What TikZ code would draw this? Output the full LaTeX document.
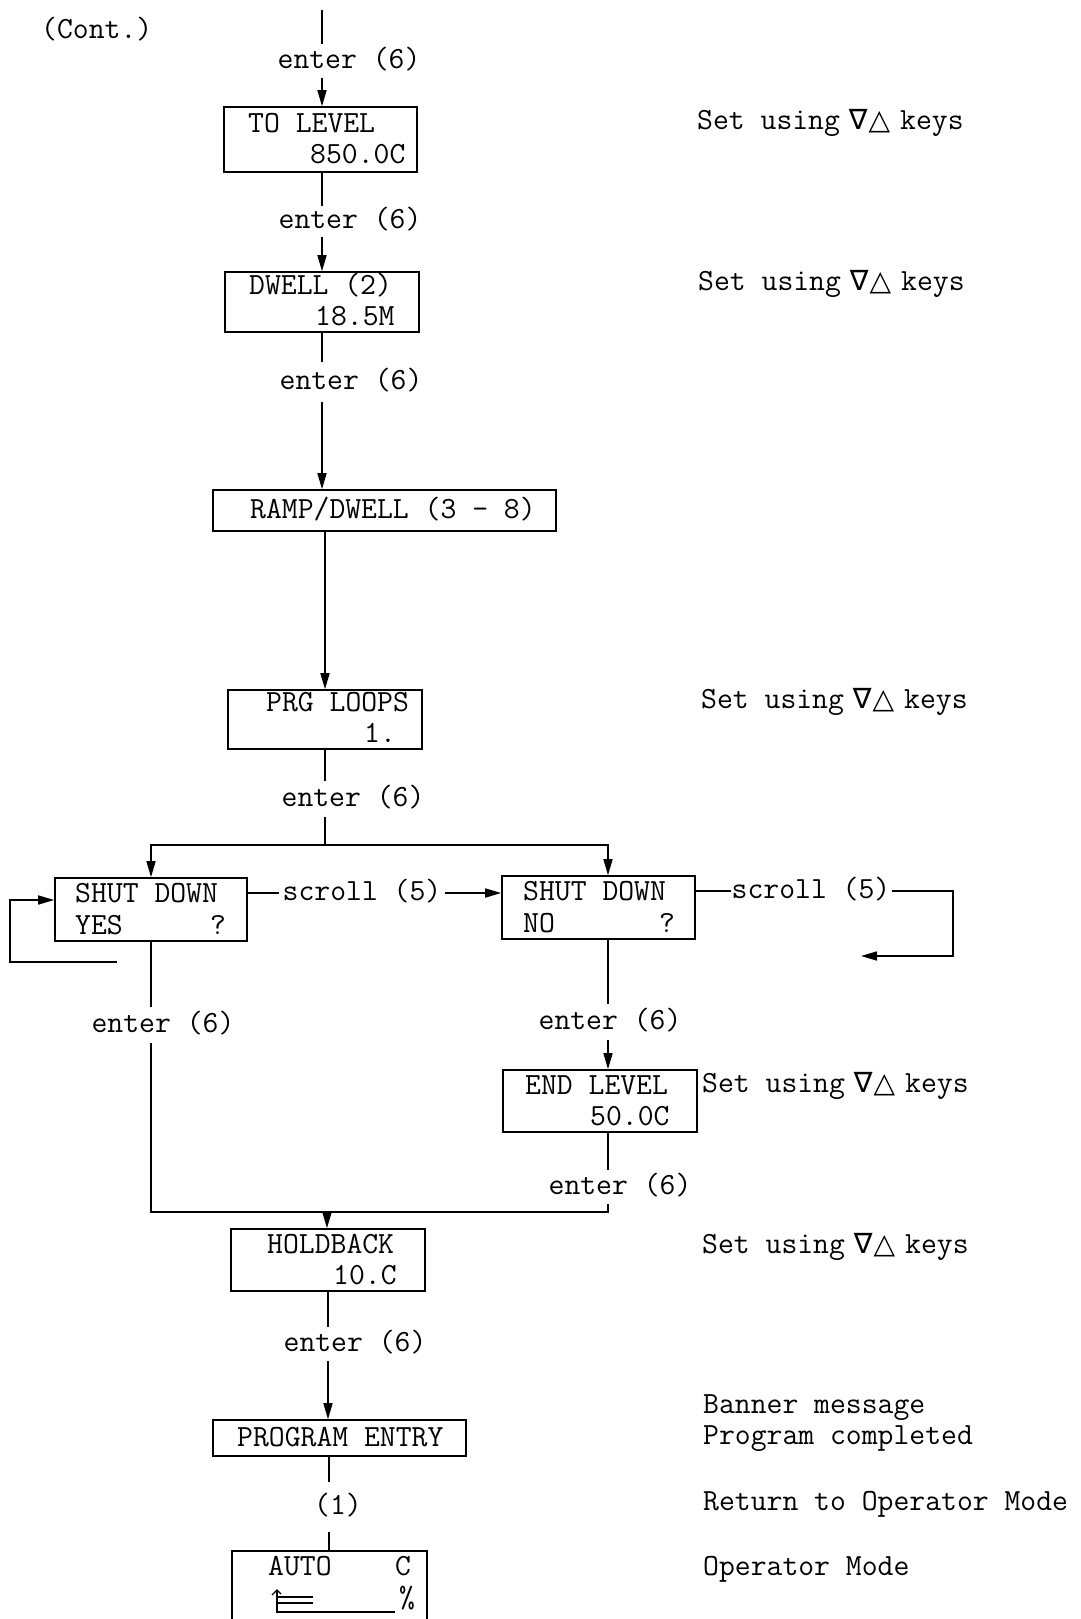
\documentclass[tikz,border=0pt]{standalone}
\usepackage{fontspec}
\newfontfamily\symfont{DejaVu Sans}
\usetikzlibrary{arrows.meta}
\newcommand\fs{\ttfamily\fontsize{30.8}{31}\selectfont}
\newcommand\keystext{Set using\hspace{9pt}{\symfont\fontsize{28}{30}\selectfont ∇\hspace{1pt}△}\hspace{10pt}keys}
\tikzset{
  ln/.style={line width=1.6pt},
  arr/.style={line width=1.6pt,-{Triangle[length=16pt,width=9pt]}},
  box/.style={draw,line width=1.6pt,inner sep=0pt},
  txt/.style={inner sep=0pt,anchor=west,font=\fs,text height=17pt,text depth=0pt},
  lbl/.style={inner xsep=4pt,inner ysep=0pt,font=\fs,text height=20pt,text depth=6pt}
}
\begin{document}
\begin{tikzpicture}[x=1pt,y=-1pt]
\useasboundingbox (0,0) rectangle (1080,1619);
\fill[white] (0,0) rectangle (1080,1619);

% ---- texts on the left / top
\node[txt] (cont) at (41,30) {(Cont.)};

% ---- boxes
\node[box,minimum width=193pt,minimum height=65pt] (tolevel) at (320.5,139.5) {};
\node[txt] (tolevel1) at (248,124) {TO LEVEL};
\node[txt] (tolevel2) at (310,155) {850.0C};

\node[box,minimum width=194pt,minimum height=60pt] (dwell) at (322,302) {};
\node[txt] (dwell1) at (249,286) {DWELL (2)};
\node[txt] (dwell2) at (315,317) {18.5M};

\node[box,minimum width=343pt,minimum height=41pt] (ramp) at (384.5,510.5) {};
\node[txt] (ramp1) at (250,510) {RAMP/DWELL (3 - 8)};

\node[box,minimum width=194pt,minimum height=59pt] (prg) at (325,719.5) {};
\node[txt] (prg1) at (266,703) {PRG LOOPS};
\node[txt] (prg2) at (364,734) {1.};

\node[box,minimum width=192pt,minimum height=63pt] (yes) at (151,909.5) {};
\node[txt] (yes1) at (75,894) {SHUT DOWN};
\node[txt] (yes2) at (75,926) {YES};
\node[txt] (yes3) at (210,926) {?};

\node[box,minimum width=193pt,minimum height=63pt] (no) at (598.5,907.5) {};
\node[txt] (no1) at (523,892) {SHUT DOWN};
\node[txt] (no2) at (523,924) {NO};
\node[txt] (no3) at (659,924) {?};

\node[box,minimum width=194pt,minimum height=62pt] (endl) at (600,1101) {};
\node[txt] (endl1) at (525,1086) {END LEVEL};
\node[txt] (endl2) at (590,1117) {50.0C};

\node[box,minimum width=194pt,minimum height=62pt] (hold) at (328,1260) {};
\node[txt] (hold1) at (267,1245) {HOLDBACK};
\node[txt] (hold2) at (333,1276) {10.C};

\node[box,minimum width=253pt,minimum height=36pt] (prog) at (339.5,1438) {};
\node[txt] (prog1) at (237,1438) {PROGRAM ENTRY};

\node[box,minimum width=195pt,minimum height=80pt] (auto) at (329.5,1591) {};
\node[txt] (auto1) at (268,1567) {AUTO};
\node[txt] (auto2) at (395,1567) {C};
\node[txt] (auto3) at (399,1599) {\%};
% bar graph symbol
\draw[line width=1.4pt] (277,1591) -- (277,1612) -- (395,1612);
\draw[line width=1.4pt] (277,1597) -- (313,1597);
\draw[line width=1.4pt] (277,1603) -- (313,1603);
\draw[line width=1.2pt] (272,1595) -- (277,1590) -- (281,1594);

% ---- right-hand notes
\node[txt] (n1) at (697,121) {\keystext};
\node[txt] (n2) at (698,282) {\keystext};
\node[txt] (n3) at (701,700) {\keystext};
\node[txt] (n4) at (702,1084) {\keystext};
\node[txt] (n5) at (702,1245) {\keystext};
\node[txt] (n6) at (703,1405) {Banner message};
\node[txt] (n7) at (703,1436) {Program completed};
\node[txt] (n8) at (703,1502) {Return to Operator Mode};
\node[txt] (n9) at (703,1567) {Operator Mode};

% ---- connector labels
\node[lbl,minimum height=34pt] (e1) at (349,61) {enter (6)};
\node[lbl,minimum height=31pt] (e2) at (350,221.5) {enter (6)};
\node[lbl,minimum height=40pt] (e3) at (351,382) {enter (6)};
\node[lbl,minimum height=36pt] (e4) at (353,799) {enter (6)};
\node[lbl,minimum height=36pt] (e5) at (163,1025) {enter (6)};
\node[lbl,minimum height=36pt] (e6) at (610,1022) {enter (6)};
\node[lbl,minimum height=34pt] (e7) at (620,1187) {enter (6)};
\node[lbl,minimum height=34pt] (e8) at (355,1344) {enter (6)};
\node[lbl,minimum height=49pt] (e9) at (338,1507) {(1)};
\node[lbl,inner xsep=3pt] (s1) at (362,893) {scroll (5)};
\node[lbl,inner xsep=1pt] (s2) at (811,891) {scroll (5)};

% ---- coordinates
\coordinate (top) at (322,10);
\coordinate (split) at (325,845);
\coordinate (colR) at (608,1000);
\coordinate (join) at (327,1212);
\coordinate (rloop) at (953,956);
\coordinate (rend) at (861,956);
\coordinate (lstart) at (117,962);
\coordinate (lcorner) at (10,962);
\coordinate (acol) at (329,1500);

% ---- connectors
\draw[ln] (top) -- (top |- e1.north);
\draw[arr] (top |- e1.south) -- (top |- tolevel.north);

\draw[ln] (dwell.north |- tolevel.south) -- (dwell.north |- e2.north);
\draw[arr] (dwell.north |- e2.south) -- (dwell.north);

\draw[ln] (dwell.south) -- (dwell.south |- e3.north);
\draw[arr] (dwell.south |- e3.south) -- (dwell.south |- ramp.north);

\draw[arr] (prg.north |- ramp.south) -- (prg.north);

\draw[ln] (prg.south) -- (prg.south |- e4.north);
\draw[ln] (prg.south |- e4.south) -- (split);
\draw[arr] (split) -| (yes.north);
\draw[arr] (split) -| (colR |- no.north);

\draw[ln] (yes.east |- s1.west) -- (s1.west);
\draw[arr] (s1.east) -- (s1.east -| no.west);

\draw[ln] (no.east |- s2.west) -- (s2.west);
\draw[arr] (s2.east) -| (rloop) -- (rend);

\draw[arr] (lstart) -- (lcorner) |- ([yshift=9.5pt]yes.west);

\draw[ln] (yes.south) -- (yes.south |- e5.north);
\draw[ln] (colR |- no.south) -- (colR |- e6.north);
\draw[arr] (colR |- e6.south) -- (colR |- endl.north);
\draw[ln] (colR |- endl.south) -- (colR |- e7.north);
\draw[ln] (colR |- e7.south) -- (colR |- join) -- (yes.south |- join) -- (yes.south |- e5.south);
\draw[arr] (join) -- (join |- hold.north);

\draw[ln] (hold.south) -- (hold.south |- e8.north);
\draw[arr] (hold.south |- e8.south) -- (hold.south |- prog.north);

\draw[ln] (acol |- prog.south) -- (acol |- e9.north);
\draw[ln] (acol |- e9.south) -- (acol |- auto.north);
\end{tikzpicture}
\end{document}
